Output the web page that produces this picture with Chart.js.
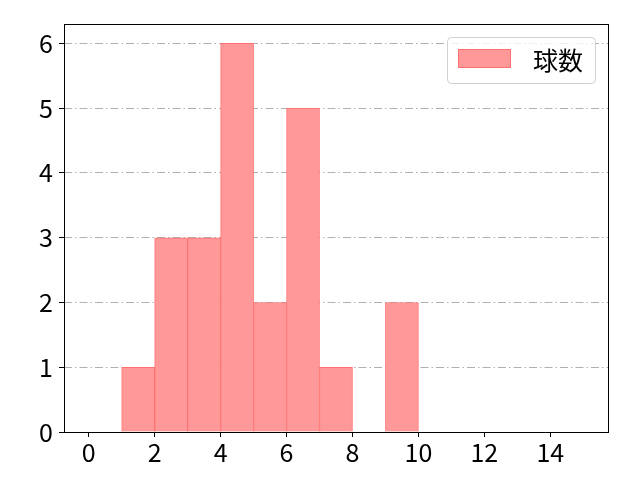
<!DOCTYPE html>
<html>
<head>
<meta charset="utf-8">
<script src="https://cdn.jsdelivr.net/npm/chart.js@4"></script>
<style>
  body { margin: 0; background: #fff; }
  canvas { display: block; }
</style>
</head>
<body>
<canvas id="chart1" width="640" height="480"></canvas>
<script>
// histogram bins (left edges, width 1) and counts
const binLefts = [0, 1, 2, 3, 4, 5, 6, 7, 8, 9, 10, 11, 12, 13, 14];
const counts   = [0, 1, 3, 3, 6, 2, 5, 1, 0, 2, 0, 0, 0, 0, 0];
const xTicks = [0, 2, 4, 6, 8, 10, 12, 14];
const yTicks = [0, 1, 2, 3, 4, 5, 6];
const seriesName = "球数";

const FONT = "'Noto Sans CJK JP', 'Noto Sans', sans-serif";
const fontSize = 25;

// frame + legend box in upper right
const framePlugin = {
    id: "frame",
    afterDatasetsDraw(chart) {
        const ctx = chart.ctx;
        const a = chart.chartArea;
        ctx.save();
        ctx.strokeStyle = "#000";
        ctx.lineWidth = 1;
        ctx.strokeRect(a.left + 0.5, a.top + 0.5, a.right - a.left, a.bottom - a.top);

        // legend
        const ds = chart.data.datasets[0];
        const bw = 148, bh = 46;
        const bx = a.right - 13 - bw, by = a.top + 13;
        ctx.beginPath();
        ctx.roundRect(bx + 0.5, by + 0.5, bw, bh, 4);
        ctx.fillStyle = "rgba(255,255,255,0.8)";
        ctx.fill();
        ctx.strokeStyle = "#d0d0d0";
        ctx.stroke();

        ctx.fillStyle = ds.backgroundColor;
        ctx.fillRect(bx + 11, by + 12, 53, 19);
        ctx.strokeStyle = ds.borderColor;
        ctx.strokeRect(bx + 11.5, by + 12.5, 52, 18);

        ctx.fillStyle = "#000";
        ctx.font = fontSize + "px " + FONT;
        ctx.textBaseline = "middle";
        ctx.textAlign = "left";
        ctx.fillText(ds.label, bx + 86, by + bh / 2);
        ctx.restore();
    }
};

var myChart = document.getElementById("chart1").getContext("2d");

var chart = new Chart(myChart, {
    type: "bar",
    data: {
        datasets: [
            {
                label: seriesName,
                data: binLefts.map(function (b, i) { return { x: b + 0.5, y: counts[i] }; }),
                backgroundColor: "#ff9999",
                borderColor: "#ff7070",
                borderWidth: 1,
                borderSkipped: "bottom",
                barPercentage: 1,
                categoryPercentage: 1
            }
        ]
    },
    options: {
        responsive: false,
        animation: false,
        devicePixelRatio: 1,
        layout: { padding: { top: 24, right: 32, left: 0, bottom: 0 } },
        plugins: {
            legend: { display: false },
            tooltip: { enabled: false }
        },
        scales: {
            x: {
                type: "linear",
                offset: false,
                min: -0.75,
                max: 15.75,
                afterBuildTicks: function (scale) {
                    scale.ticks = xTicks.map(function (v) { return { value: v }; });
                },
                afterFit: function (scale) { scale.height = 48; },
                grid: {
                    offset: false,
                    drawOnChartArea: false,
                    drawTicks: true,
                    tickLength: 5,
                    tickColor: "#000"
                },
                border: { display: false },
                ticks: {
                    autoSkip: false,
                    maxRotation: 0,
                    padding: 0,
                    color: "#000",
                    font: { family: FONT, size: fontSize }
                }
            },
            y: {
                type: "linear",
                min: 0,
                max: 6.3,
                afterBuildTicks: function (scale) {
                    scale.ticks = yTicks.map(function (v) { return { value: v }; });
                },
                afterFit: function (scale) { scale.width = 64; },
                grid: {
                    color: "#b0b0b0",
                    lineWidth: 1,
                    drawTicks: true,
                    tickLength: 5,
                    tickColor: "#000",
                    tickBorderDash: []
                },
                border: { display: false, dash: [8, 3, 1.5, 3] },
                ticks: {
                    autoSkip: false,
                    padding: 6,
                    color: "#000",
                    font: { family: FONT, size: fontSize }
                }
            }
        }
    },
    plugins: [framePlugin]
});
</script>
</body>
</html>
